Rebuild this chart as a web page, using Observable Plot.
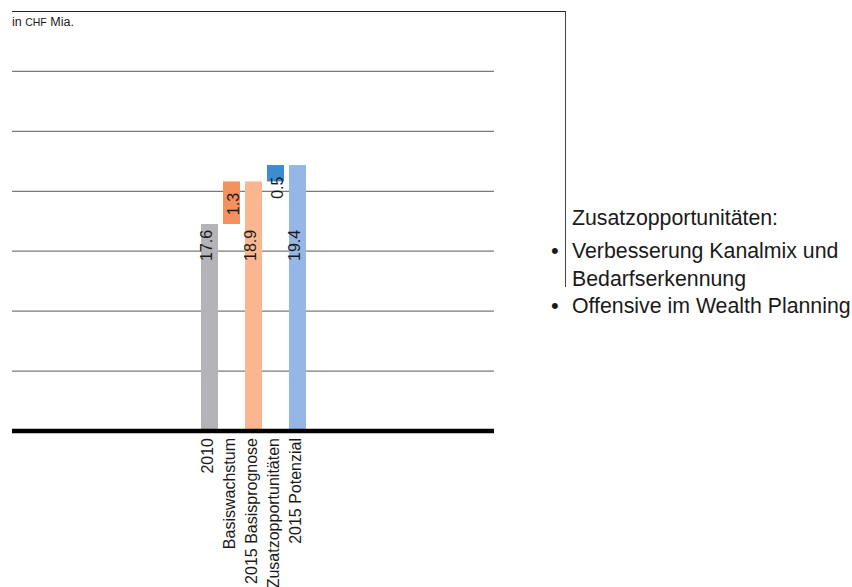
<!DOCTYPE html>
<html>
<head>
<meta charset="utf-8">
<script src="https://cdn.jsdelivr.net/npm/d3@7"></script>
<script src="https://cdn.jsdelivr.net/npm/@observablehq/plot@0.6"></script>
<style>
  html, body { margin: 0; padding: 0; background: #fff; }
  #wrap { position: relative; width: 852px; height: 587px; overflow: hidden;
          font-family: "Liberation Sans", Arial, sans-serif; color: #1a1a1a; }
  #chart { position: absolute; left: 0; top: 0; }
  .frame-top { position: absolute; left: 12px; top: 11px; width: 554px; height: 0;
               border-top: 1.5px solid #222; }
  .frame-right { position: absolute; left: 564.5px; top: 11px; width: 0; height: 276px;
                 border-left: 1.5px solid #444; }
  .unit { position: absolute; left: 12px; top: 15px; font-size: 12.5px; white-space: nowrap; }
  .unit .small { font-size: 10.5px; }
  .note { position: absolute; left: 572px; font-size: 21.3px; line-height: 28px; white-space: nowrap; }
  .bullet { position: absolute; left: 551px; font-size: 22px; line-height: 28px; }
</style>
</head>
<body>
<div id="wrap">
  <div id="chart"></div>
  <div class="frame-top"></div>
  <div class="frame-right"></div>
  <div class="unit">in <span class="small">CHF</span> Mia.</div>
</div>
<script>
// Waterfall steps: totals stand on the axis, deltas float on the previous total
const categories = ["2010", "Basiswachstum", "2015 Basisprognose", "Zusatzopportunitäten", "2015 Potenzial"];
const values = [17.6, 1.3, 18.9, 0.5, 19.4];
const kinds = ["total", "delta", "total", "delta", "total"];
const barColors = ["#b3b3b8", "#f4915e", "#fbb690", "#3c8dcf", "#94b7e5"];

// Side note listing the additional opportunities
const noteTitle = "Zusatzopportunitäten:";
const noteItems = [["Verbesserung Kanalmix und", "Bedarfserkennung"], ["Offensive im Wealth Planning"]];

// Value axis (unlabelled) and its gridline count
const yDomain = [11.3, 24.1];
const gridCount = 7;

let running = 0;
const rows = categories.map((c, i) => {
  let y1, y2;
  if (kinds[i] === "total") {
    y1 = yDomain[0];
    y2 = values[i];
    running = values[i];
  } else {
    y1 = running;
    y2 = running + values[i];
    running = y2;
  }
  return {category: c, value: values[i], kind: kinds[i], y1, y2, color: barColors[i]};
});

const gridValues = d3.range(1, gridCount).map(i => yDomain[0] + i * (yDomain[1] - yDomain[0]) / gridCount);

const font = "Liberation Sans, Arial, sans-serif";

const chart = Plot.plot({
  width: 852,
  height: 587,
  marginLeft: 12,
  marginRight: 358,
  marginTop: 11,
  marginBottom: 156.5,
  style: {fontFamily: font, background: "transparent", color: "#1a1a1a"},
  x: {domain: categories, range: [197.2, 310.2], paddingInner: 0.25, paddingOuter: 0.125, axis: null},
  y: {domain: yDomain, axis: null},
  color: {type: "identity"},
  marks: [
    Plot.ruleY(gridValues, {stroke: "#7a7a7a", strokeWidth: 1.3}),
    Plot.barY(rows, {x: "category", y1: "y1", y2: "y2", fill: "color"}),
    Plot.ruleY([yDomain[0]], {stroke: "#000", strokeWidth: 4.5}),
    // labels of the totals, all starting at the same height
    Plot.text(rows.filter(d => d.kind === "total"), {
      x: "category", frameAnchor: "bottom", dy: -170, dx: 2,
      text: d => d.value.toFixed(1), rotate: -90, textAnchor: "start",
      fontSize: 16, fill: "#1a1a1a"
    }),
    // labels of the deltas, hanging from the top of their bar
    Plot.text(rows.filter(d => d.kind === "delta"), {
      x: "category", y: "y2", dy: 11, dx: 2,
      text: d => d.value.toFixed(1), rotate: -90, textAnchor: "end",
      fontSize: 16, fill: "#1a1a1a"
    }),
    // category names under the axis
    Plot.text(rows, {
      x: "category", frameAnchor: "bottom", dy: 7, dx: 3,
      text: "category", rotate: -90, textAnchor: "end",
      fontSize: 16, fill: "#1a1a1a"
    })
  ]
});
document.getElementById("chart").appendChild(chart);

// Side note
const wrap = document.getElementById("wrap");
const lineTops = [204, 237, 264.5, 292];
const title = document.createElement("div");
title.className = "note";
title.style.top = lineTops[0] + "px";
title.textContent = noteTitle;
wrap.appendChild(title);
let li = 1;
noteItems.forEach(item => {
  const b = document.createElement("div");
  b.className = "bullet";
  b.style.top = lineTops[li] + "px";
  b.textContent = "•";
  wrap.appendChild(b);
  item.forEach(line => {
    const d = document.createElement("div");
    d.className = "note";
    d.style.top = lineTops[li] + "px";
    d.textContent = line;
    wrap.appendChild(d);
    li++;
  });
});
</script>
</body>
</html>
